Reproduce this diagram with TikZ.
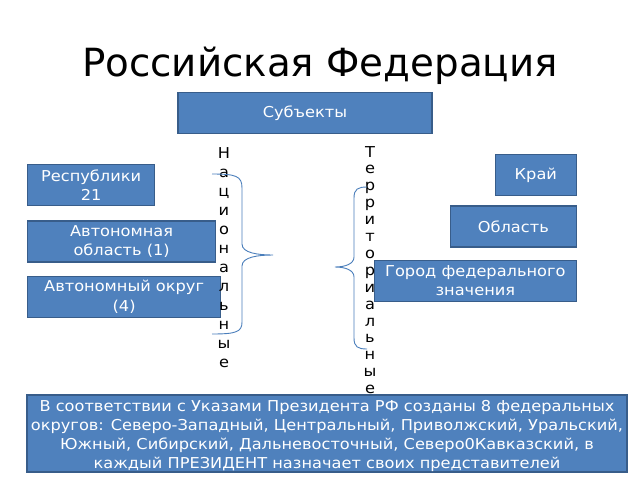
\documentclass[tikz,border=0pt]{standalone}
\usepackage{fontspec}
\setmainfont{DejaVu Sans}
\newfontfamily\boxfont[FakeStretch=1.08]{DejaVu Sans}
\usetikzlibrary{positioning}

\definecolor{boxfill}{HTML}{4F81BD}
\definecolor{boxline}{HTML}{385D8A}
\definecolor{braceline}{HTML}{4A7EBB}

\begin{document}
\begin{tikzpicture}[x=1pt,y=-1pt,
  box/.style={draw=boxline,line width=1.3pt,fill=boxfill,text=white,
    align=center,inner sep=0pt,minimum height=41pt,
    font=\boxfont\fontsize{15}{19.2}\selectfont},
  vword/.style={align=center,inner sep=0pt,font=\boxfont\fontsize{15}{#1}\selectfont},
  brace/.style={draw=braceline,line width=0.9pt}]

\useasboundingbox (0,0) rectangle (640,480);

\node[anchor=base,font=\fontsize{38.8}{46}\selectfont] (title) at (320,76) {Российская Федерация};

\node[box,minimum width=254pt] (subj) at (305,113) {Субъекты};

% national subjects
\node[box,minimum width=127pt,anchor=north west] (resp) at (27,164) {Республики\\21};
\node[box,minimum width=188pt,below=14pt of resp.south west,anchor=north west] (aobl) {Автономная\\область (1)};
\node[box,minimum width=193pt,below=13pt of aobl.south west,anchor=north west] (aokr) {Автономный округ\\(4)};

% territorial subjects
\node[box,minimum width=81pt,anchor=north east] (kray) at (577,154) {Край};
\node[box,minimum width=126pt,below=9pt of kray.south east,anchor=north east] (obl) {Область};
\node[box,minimum width=202pt,below=12pt of obl.south east,anchor=north east] (gorod) {Город федерального\\значения};

\node[vword=19] (nat) at (224,258) {Н\\а\\ц\\и\\о\\н\\а\\л\\ь\\н\\ы\\е};
\node[vword=16.9] (terr) at (370,270) {Т\\е\\р\\р\\и\\т\\о\\р\\и\\а\\л\\ь\\н\\ы\\е};

\draw[brace] (212,174) .. controls (236,174) and (242,176) .. (242,188) -- (242,244)
  .. controls (242,253) and (258,255) .. (273,255)
  .. controls (258,255) and (242,257) .. (242,266) -- (242,322)
  .. controls (242,332) and (236,334) .. (212,334);
\draw[brace] (367,187) .. controls (358,187) and (354,189) .. (354,198) -- (354,257)
  .. controls (354,264) and (345,267) .. (335,267)
  .. controls (345,267) and (354,270) .. (354,277) -- (354,338)
  .. controls (354,347) and (358,349) .. (367,349);

\node[box,minimum width=600pt,minimum height=77pt] (okrug) at (327,433.5)
  {\rule{0pt}{16pt}В соответствии с Указами Президента РФ созданы 8 федеральных\\
   округов: Северо-Западный, Центральный, Приволжский, Уральский,\\
   Южный, Сибирский, Дальневосточный, Северо0Кавказский, в\\
   каждый ПРЕЗИДЕНТ назначает своих представителей};

\end{tikzpicture}
\end{document}
